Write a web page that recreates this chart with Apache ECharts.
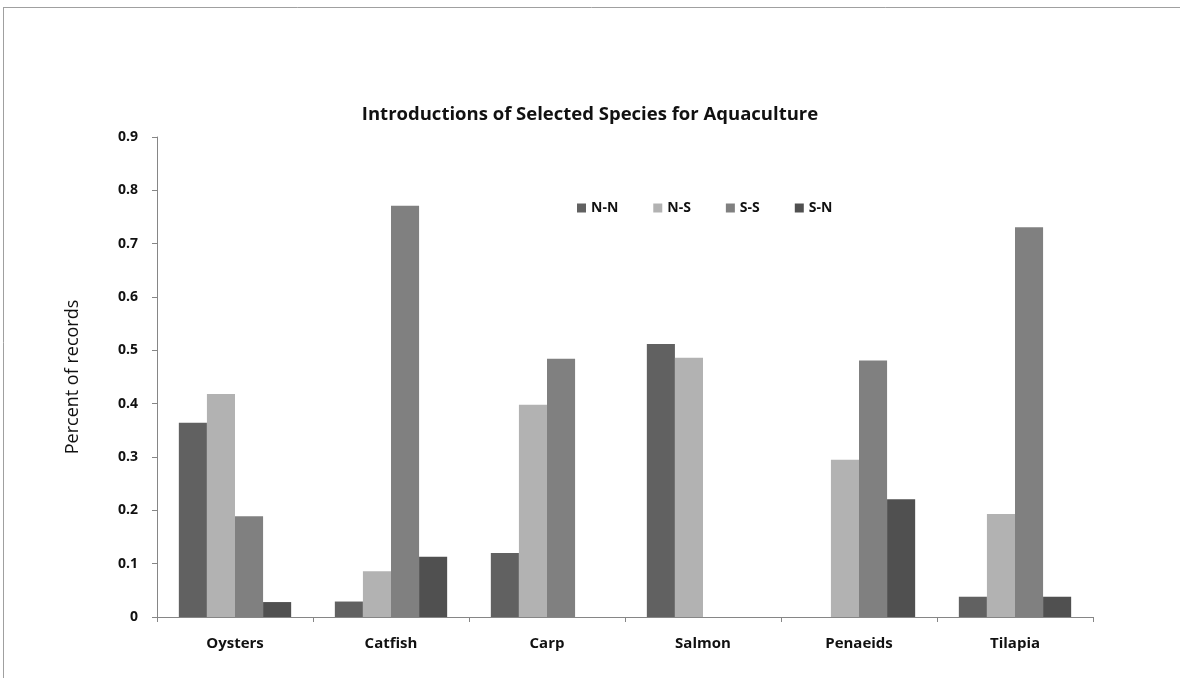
<!DOCTYPE html>
<html>
<head>
<meta charset="utf-8">
<script src="https://cdn.jsdelivr.net/npm/echarts@6/dist/echarts.min.js"></script>
<style>
html,body{margin:0;padding:0;background:#fff;}
#c{width:1180px;height:678px;}
</style>
</head>
<body>
<div id="c"></div>
<script>
const categories = ['Oysters','Catfish','Carp','Salmon','Penaeids','Tilapia'];
const seriesNames = ['N-N','N-S','S-S','S-N'];
const nn = [0.364, 0.029, 0.120, 0.512, 0, 0.038];
const ns = [0.418, 0.086, 0.398, 0.486, 0.295, 0.193];
const ss = [0.189, 0.771, 0.484, 0, 0.481, 0.731];
const sn = [0.028, 0.113, 0, 0, 0.221, 0.038];
const yTicks = [0, 0.1, 0.2, 0.3, 0.4, 0.5, 0.6, 0.7, 0.8, 0.9];
const colors = ['#616161','#b2b2b2','#808080','#505050'];

const chart = echarts.init(document.getElementById('c'), null, {renderer:'canvas'});
const font = '"Open Sans", "Noto Sans", sans-serif';
const mk = (name, data, i) => ({
  name, type:'bar', data, barGap:'0%', barCategoryGap:'28%',
  itemStyle:{color:colors[i]}, animation:false
});
chart.setOption({
  animation:false,
  backgroundColor:'#fff',
  textStyle:{fontFamily:font},
  title:{
    text:'Introductions of Selected Species for Aquaculture',
    left:'center', top:100,
    textStyle:{fontFamily:font, fontSize:18.5, fontWeight:'bold', color:'#111'}
  },
  legend:{
    data:seriesNames, top:196, left:572,
    itemWidth:9, itemHeight:9, itemGap:35,
    textStyle:{fontFamily:font, fontSize:14, fontWeight:'bold', color:'#111'},
    icon:'rect'
  },
  grid:{left:157, right:87, top:137, bottom:61, containLabel:false},
  xAxis:{
    type:'category', data:categories,
    axisLine:{lineStyle:{color:'#868686', width:1}},
    axisTick:{show:true, alignWithLabel:false, length:5, lineStyle:{color:'#868686'}},
    axisLabel:{fontFamily:font, fontSize:15, fontWeight:'bold', color:'#111', margin:19}
  },
  yAxis:{
    type:'value', min:0, max:0.9, interval:0.1,
    name:'Percent of records', nameLocation:'middle', nameGap:75,
    nameTextStyle:{fontFamily:font, fontSize:18, color:'#111'},
    axisLine:{show:true, lineStyle:{color:'#868686', width:1}},
    axisTick:{show:true, length:5, lineStyle:{color:'#868686'}},
    splitLine:{show:false},
    axisLabel:{fontFamily:font, fontSize:14, fontWeight:'bold', color:'#111', margin:19,
      formatter: v => { const t = yTicks.find(x => Math.abs(x - v) < 1e-9); return t === undefined ? '' : String(t); }}
  },
  graphic:[
    {type:'line', shape:{x1:3, y1:7.5, x2:1180, y2:7.5}, style:{stroke:'#a0a0a0', lineWidth:1}},
    {type:'line', shape:{x1:3.5, y1:7, x2:3.5, y2:678}, style:{stroke:'#a0a0a0', lineWidth:1}}
  ],
  series:[mk('N-N',nn,0), mk('N-S',ns,1), mk('S-S',ss,2), mk('S-N',sn,3)]
});
</script>
</body>
</html>
